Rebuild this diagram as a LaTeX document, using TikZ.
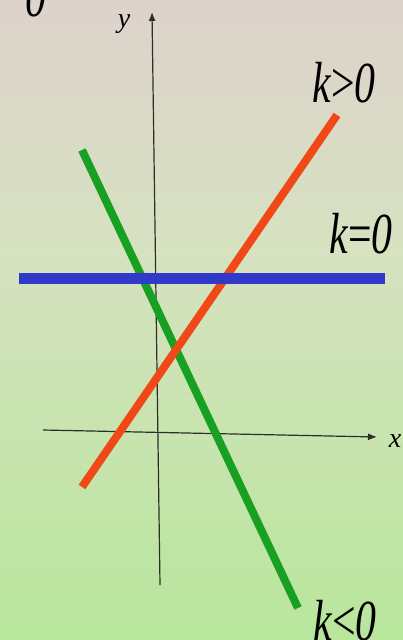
\documentclass[tikz,border=0pt]{standalone}
\usepackage{fontspec}
\setmainfont{Liberation Serif}
\usetikzlibrary{arrows.meta}
\definecolor{bgtop}{RGB}{222,210,204}
\definecolor{bgmid}{RGB}{214,226,192}
\definecolor{bgbot}{RGB}{184,230,156}
\definecolor{redline}{RGB}{240,72,22}
\definecolor{blueline}{RGB}{48,58,200}
\definecolor{greenline}{RGB}{24,160,34}
\definecolor{axisgray}{RGB}{45,45,45}
\tikzset{
  axis/.style={draw=axisgray, line width=1.2pt, -{Latex[length=9pt,width=7pt]}},
  fatline/.style={line width=8pt},
  klabel/.style={font=\itshape\fontsize{58}{58}\selectfont, xscale=0.72, inner sep=0pt},
  axlabel/.style={font=\itshape\fontsize{28}{28}\selectfont, inner sep=0pt}
}
\begin{document}
\begin{tikzpicture}[x=1pt,y=-1pt]
\useasboundingbox (0,0) rectangle (403,640);
\clip (0,0) rectangle (403,640);
\shade[top color=bgtop, bottom color=bgmid] (0,0) rectangle (403,250);
\shade[top color=bgmid, bottom color=bgbot] (0,250) rectangle (403,640);
% cut-off label
\node[klabel, anchor=base] (top0) at (36,16) {0};
% axes
\coordinate (ybot) at (160,585);
\coordinate (ytop) at (152,12);
\coordinate (xl) at (43,430);
\coordinate (xr) at (377,437);
\draw[axis] (ybot) -- (ytop);
\draw[axis] (xl) -- (xr);
\node[axlabel] (ylab) at (124,24) {y};
\node[axlabel] (xlab) at (395,441) {x};
% lines
\coordinate (r1) at (82,487);
\coordinate (r2) at (337,115);
\coordinate (b1) at (19,278);
\coordinate (b2) at (385,278);
\coordinate (g1) at (82,150);
\coordinate (g2) at (298,608);
\draw[fatline, greenline] (g1) -- (g2);
\draw[fatline, redline] (r1) -- (r2);
\draw[line width=11pt, blueline] (b1) -- (b2);
% labels
\node[klabel, anchor=base] (kpos) at (344,102) {k{\upshape >}0};
\node[klabel, anchor=base] (kzero) at (361,253) {k{\upshape =}0};
\node[klabel, anchor=base] (kneg) at (345,640) {k{\upshape <}0};
\end{tikzpicture}
\end{document}
